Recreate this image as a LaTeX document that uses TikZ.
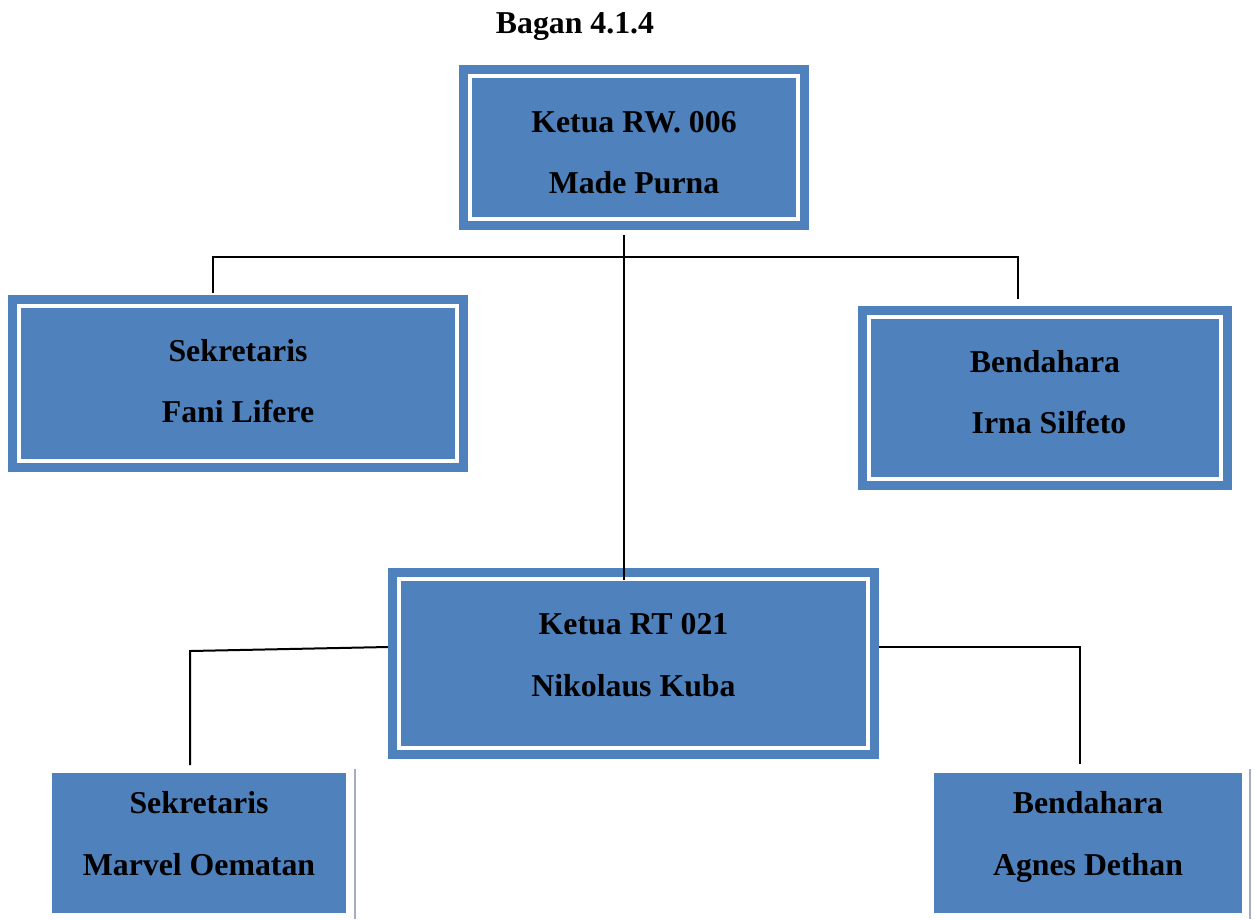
\documentclass[tikz,border=0pt]{standalone}
\usepackage{fontspec}
\setmainfont{Liberation Serif}
\usetikzlibrary{calc}
\definecolor{boxblue}{HTML}{4F81BD}
\definecolor{edgegray}{HTML}{A3ADC2}
\begin{document}
\begin{tikzpicture}[x=1pt,y=-1pt,
  box/.style={rectangle, fill=boxblue, draw=none, inner sep=0pt, outer sep=0pt},
  framed/.style={box, path picture={\draw[white, line width=4pt]
      ([shift={(11pt,-11pt)}]path picture bounding box.north west) rectangle
      ([shift={(-11pt,11pt)}]path picture bounding box.south east);}},
  lbl/.style={anchor=base, inner sep=0pt, font=\fontsize{31.8}{38}\selectfont\bfseries},
  conn/.style={draw=black, line width=2pt},
  side/.style={draw=edgegray, line width=2pt}]
\useasboundingbox (0,0) rectangle (1257,919);

% boxes
\node[framed, minimum width=350pt, minimum height=165pt] (top) at (634,147.5) {};
\node[framed, minimum width=460pt, minimum height=177pt] (sekrw) at (238,383.5) {};
\node[framed, minimum width=374pt, minimum height=184pt] (bendrw) at (1045,398) {};
\node[framed, minimum width=491pt, minimum height=191pt] (rt) at (633.5,663.5) {};
\node[box, minimum width=294pt, minimum height=140pt] (sl) at (199,843) {};
\node[box, minimum width=308pt, minimum height=140pt] (sr) at (1088,843) {};

% title
\node[lbl] (title) at (575,33) {Bagan 4.1.4};

% labels
\node[lbl] (t1) at ($(top)+(0,-15.5)$) {Ketua RW. 006};
\node[lbl] (t2) at ($(top)+(0,45.5)$) {Made Purna};
\node[lbl] (s1) at ($(sekrw)+(0,-22.5)$) {Sekretaris};
\node[lbl] (s2) at ($(sekrw)+(0,38.5)$) {Fani Lifere};
\node[lbl] (b1) at ($(bendrw)+(0,-26)$) {Bendahara};
\node[lbl] (b2) at ($(bendrw)+(4,35)$) {Irna Silfeto};
\node[lbl] (r1) at ($(rt)+(0,-29.5)$) {Ketua RT 021};
\node[lbl] (r2) at ($(rt)+(0,32.5)$) {Nikolaus Kuba};
\node[lbl] (l1) at ($(sl)+(0,-30)$) {Sekretaris};
\node[lbl] (l2) at ($(sl)+(0,32)$) {Marvel Oematan};
\node[lbl] (q1) at ($(sr)+(0,-30)$) {Bendahara};
\node[lbl] (q2) at ($(sr)+(0,32)$) {Agnes Dethan};

% connectors
\draw[conn] ($(top.south)+(-10,5)$) -- ($(rt.north)+(-9.5,12)$);
\draw[conn] ($(sekrw.north)+(-25,-2)$) -- ($(sekrw.north)+(-25,-38)$)
  -- ($(bendrw.north)+(-27,-49)$) -- ($(bendrw.north)+(-27,-7)$);
\draw[conn] ($(rt.west)+(0,-16.5)$) -- ($(sl.north)+(-9,-122)$) -- ($(sl.north)+(-9,-8)$);
\draw[conn] ($(rt.east)+(0,-16.5)$) -- ($(sr.north)+(-8,-126)$) -- ($(sr.north)+(-8,-9)$);

% side lines
\draw[side] ($(sl.north east)+(9,-4)$) -- ($(sl.south east)+(9,6)$);
\draw[side] ($(sr.north east)+(8,-4)$) -- ($(sr.south east)+(8,6)$);
\end{tikzpicture}
\end{document}
